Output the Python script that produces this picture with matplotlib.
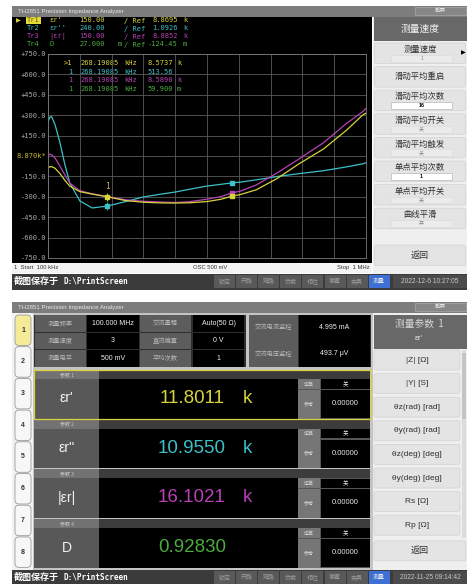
import numpy as np
import matplotlib
matplotlib.use("Agg")
import matplotlib.pyplot as plt
from matplotlib.patches import Rectangle, FancyBboxPatch

CJK = ["Noto Sans CJK SC", "DejaVu Sans"]
MONO = ["DejaVu Sans Mono", "Noto Sans CJK SC"]
SANS = ["Liberation Sans", "Noto Sans CJK SC", "DejaVu Sans"]
NARROW = ["Liberation Sans Narrow", "Liberation Sans", "DejaVu Sans"]

YEL = "#d8d43c"
CYA = "#3cc0c8"
MAG = "#b840b6"
GRN = "#4caa40"

# ---- sweep screen data (display units, -750..750 grid) ----
freq_khz = [100, 105, 110, 120, 134, 148, 162, 190, 225, 268, 320, 370, 420, 460,
            500, 550, 590, 620, 645, 690, 750, 810, 880, 945, 990, 1000]
tr1_er1 = [-85, -80, -78, -90, -130, -180, -222, -262, -280, -300, -328, -340, -345, -346,
           -344, -335, -318, -295, -283, -248, -163, -58, 52, 190, 300, 315]
tr2_er2 = [250, 285, 290, 230, 96, -66, -200, -330, -382, -368, -335, -301, -280, -265,
           -245, -221, -208, -198, -192, -175, -150, -130, -108, -80, -58, -50]
tr3_abs = [5, 12, 10, -15, -75, -140, -200, -255, -278, -298, -322, -333, -338, -342,
           -336, -318, -298, -272, -258, -212, -122, -22, 98, 240, 325, 350]
marker_idx = [9, 17]

ytick_vals = [750, 600, 450, 300, 150, 0, -150, -300, -450, -600, -750]
ytick_labels = ["+750.0", "+600.0", "+450.0", "+300.0", "+150.0", "8.870k*",
                "-150.0", "-300.0", "-450.0", "-600.0", "-750.0"]

trace_names = ["Tr1", "Tr2", "Tr3", "Tr4"]
trace_params = ["εr'", "εr''", "|εr|", "D"]
trace_scale = ["150.00", "240.00", "150.00", "27.000"]
trace_scale_unit = ["", "", "", "m"]
trace_ref = ["8.8695", "1.0926", "8.8852", "-124.45"]
trace_ref_unit = ["k", "k", "k", "m"]
trace_colors = [YEL, CYA, MAG, GRN]

marker_names = [">1", "1", "1", "1"]
marker_freq = ["268.19085", "268.19085", "268.19085", "268.19085"]
marker_vals = ["8.5737", "513.56", "8.5890", "59.900"]
marker_units = ["k", "", "k", "m"]

speed_menu = ["测量速度", "滑动平均重启", "滑动平均次数", "滑动平均开关",
              "滑动平均触发", "单点平均次数", "单点平均开关", "曲线平滑"]
speed_sub = ["1", "", "16", "关", "关", "1", "关", "开"]
speed_sub_edit = [False, False, True, False, False, True, False, False]

status_keys = ["锁定", "开路", "短路", "负载", "相位", "偏置", "夹具", "测量"]

# ---- meter screen data ----
info_labels = [["测量频率", "交流量程"], ["测量速度", "直流偏置"], ["测量电平", "平均次数"]]
info_values = [["100.000 MHz", "Auto(50 Ω)"], ["3", "0 V"], ["500 mV", "1"]]
monitor_labels = ["交流电流监控", "交流电压监控"]
monitor_values = ["4.995 mA", "493.7 μV"]
param_names = ["εr'", "εr''", "|εr|", "D"]
param_values = ["11.8011", "10.9550", "16.1021", "0.92830"]
param_units = ["k", "k", "k", ""]
param_calc = ["关", "关", "关", "关"]
param_ref = ["0.00000", "0.00000", "0.00000", "0.00000"]
param_colors = [YEL, CYA, MAG, GRN]
param_menu = ["|Z| [Ω]", "|Y| [S]", "θz(rad) [rad]", "θy(rad) [rad]",
              "θz(deg) [deg]", "θy(deg) [deg]", "Rs [Ω]", "Rp [Ω]"]

fig = plt.figure(figsize=(4.7, 5.84), dpi=100)
ax = fig.add_axes([0, 0, 1, 1])
ax.set_xlim(0, 470)
ax.set_ylim(584, 0)
ax.axis("off")


def box(x, y, w, h, fc, ec="none", lw=0.5, r=0, z=1):
    if r:
        p = FancyBboxPatch((x, y), w, h, boxstyle="round,pad=0,rounding_size=%g" % r,
                           fc=fc, ec=ec, lw=lw, zorder=z)
    else:
        p = Rectangle((x, y), w, h, fc=fc, ec=ec, lw=lw, zorder=z)
    ax.add_patch(p)


def txt(x, y, s, size=5, color="white", ha="center", fam=CJK, weight="normal", z=5):
    ax.text(x, y, s, fontsize=size, color=color, ha=ha, va="center",
            family=fam, fontweight=weight, zorder=z)


def status_bar(y, date):
    box(12, y, 455, 16, "#3b3b3b")
    txt(14, y + 8, "截图保存于", 6.5, "white", "left", CJK, "bold")
    txt(63, y + 8, "D:\\PrintScreen", 5.6, "white", "left", MONO, "bold")
    for i, k in enumerate(status_keys):
        bx = 214 + 22.1 * i
        fc = "#3d6fd4" if k == "测量" else "#595959"
        tc = "#ececec" if k == "测量" else "#9c9c9c"
        box(bx, y + 1.5, 21, 13, fc)
        txt(bx + 10.5, y + 8, k, 4.3, tc)
    box(393, y + 1.5, 74, 13, "#4b4b4b")
    txt(430, y + 8, date, 4.8, "#c8c8c8", fam=SANS)


def title_bar(y):
    box(12, y, 455, 11, "#7d7d7d")
    txt(18, y + 5.5, "TH2851 Precision Impedance Analyzer", 4.4, "#e8e8e8", "left", SANS)
    box(415, y + 1.2, 51, 8, "#878787", "#a8a8a8")
    txt(440.5, y + 5.2, "截屏", 4, "#e6e6e6")


# ================= top screen =================
title_bar(5.5)
box(12, 16.5, 360, 246, "black")

trace_y = [20.5, 28.5, 36.5, 44.5]
for i in range(4):
    c = trace_colors[i]
    y = trace_y[i]
    if i == 0:
        box(26, y - 3.6, 14.5, 7.2, "#e4dc3a")
        txt(33.2, y, trace_names[i], 5, "#6a5800", fam=MONO)
        txt(18, y, "▶", 4.5, YEL, fam=["DejaVu Sans"])
    else:
        txt(33.2, y, trace_names[i], 5, c, fam=MONO)
    txt(49, y, trace_params[i], 5, c, "left", MONO)
    txt(79, y, trace_scale[i], 5, c, "left", MONO)
    txt(118, y, trace_scale_unit[i], 5, c, "left", MONO)
    txt(124, y, "/ Ref", 5, c, "left", MONO)
    txt(178, y, trace_ref[i], 5, c, "right", MONO)
    txt(183, y, trace_ref_unit[i], 5, c, "left", MONO)

mk_y = [63, 71.7, 80.3, 89]
for i in range(4):
    c = trace_colors[i]
    y = mk_y[i]
    txt(72, y, marker_names[i], 5, c, "right", MONO)
    txt(80, y, marker_freq[i], 5, c, "left", MONO)
    txt(124, y, "kHz", 5, c, "left", MONO)
    txt(147, y, marker_vals[i], 5, c, "left", MONO)
    txt(177, y, marker_units[i], 5, c, "left", MONO)

box(12, 262.5, 360, 10.5, "#f3f3f3")
txt(14, 267.8, "1  Start  100 kHz", 4.2, "#333333", "left", SANS)
txt(193, 267.8, "OSC 500 mV", 4.2, "#333333", "left", SANS)
txt(370, 267.8, "Stop  1 MHz", 4.2, "#333333", "right", SANS)

# right soft-key panel
box(372.5, 16.5, 94.5, 257, "#efefef")
box(374, 17, 92.5, 24, "#686868")
txt(420, 29, "测量速度", 7, "#f0f0f0")
for i, name in enumerate(speed_menu):
    top = 43 + 23.6 * i
    box(374.5, top, 91, 20.5, "#e4e4e4", "#d2d2d2", 0.5, r=2)
    sub = speed_sub[i]
    if sub:
        txt(420, top + 6.5, name, 6, "#303030")
        if speed_sub_edit[i]:
            box(391, top + 12, 61, 6.8, "white", "#b8b8b8", 0.5, z=2)
            txt(421.5, top + 15.4, sub, 3.8, "black", fam=SANS, weight="bold")
        else:
            box(391, top + 12, 61, 6.8, "#ebebeb", "#dadada", 0.4, z=2)
            txt(421.5, top + 15.4, sub, 3.5, "#808080")
    else:
        txt(420, top + 10.3, name, 6, "#303030")
txt(463, 53, "▶", 4.5, "black", fam=["DejaVu Sans"])
box(374.5, 245, 91, 20.5, "#e4e4e4", "#d2d2d2", 0.5, r=2)
txt(420, 255.3, "返回", 6.5, "#303030")

status_bar(273.5, "2022-12-6 10:27:05")

# ================= bottom screen =================
title_bar(301.5)
box(12, 312.5, 21, 257.5, "#f2f2f2")
for i in range(8):
    top = 315 + 31.7 * i
    fc = "#f4ea98" if i == 0 else "#f7f7f7"
    box(15, top, 16, 30.5, fc, "#9a9a9a", 0.6, r=4)
    txt(23, top + 15.2, str(i + 1), 5, "#333333", fam=SANS, weight="bold")

box(33, 312.5, 339.5, 257.5, "#c4c4c4")

# info table
box(34, 314.5, 212, 52.5, "#2e2e2e")
col_x = [34, 86.5, 139, 192]
for r in range(3):
    ry = 314.5 + 17.5 * r
    for k in range(2):
        lx = col_x[2 * k]
        vx = col_x[2 * k + 1]
        box(lx + 0.5, ry + 0.5, 51.5, 16.5, "#5c5c5c")
        txt(lx + 26, ry + 8.8, info_labels[r][k], 4.5, "#b8b8b8")
        box(vx + 0.5, ry + 0.5, 51.5, 16.5, "black")
        txt(vx + 26.5, ry + 8.8, info_values[r][k], 5, "#f0f0f0", fam=SANS)

# monitor box
box(248.5, 314.5, 122, 52.5, "#2e2e2e")
for r in range(2):
    ry = 314.5 + 26.25 * r
    box(249, ry + 0.5, 49, 25.5, "#5c5c5c")
    txt(273.5, ry + 13.2, monitor_labels[r], 4.5, "#b8b8b8")
    box(298.5, ry + 0.5, 71.5, 25.5, "black")
    txt(334, ry + 13.2, monitor_values[r], 5, "#f0f0f0", fam=SANS)

# parameter blocks
for i in range(4):
    top = 370 + 49.7 * i
    c = param_colors[i]
    box(34, top, 336, 48.5, "#565656")
    box(34, top, 65, 9, "#727272")
    box(99, top, 271, 9, "#3c3c3c")
    txt(66.5, top + 4.6, "参数 %d" % (i + 1), 3.6, "#c8c8c8")
    box(34, top + 9, 65, 39.5, "#585858")
    txt(66.5, top + 28.5, param_names[i], 10, "#f2f2f2", fam=SANS)
    box(99, top + 9, 199, 39.5, "black")
    txt(192, top + 28.5, param_values[i], 13.5, c, fam=NARROW)
    if param_units[i]:
        txt(247, top + 28.5, param_units[i], 13.5, c, fam=NARROW)
    box(298, top + 9, 22, 10, "#767676")
    txt(309, top + 14, "运算", 3.6, "#d0d0d0")
    box(320.5, top + 9.3, 49.5, 9.4, "black")
    txt(345, top + 14, param_calc[i], 4, "#e8e8e8")
    box(298, top + 19.5, 22, 29, "#767676")
    txt(309, top + 33.5, "参考", 3.6, "#d0d0d0")
    box(320.5, top + 19.8, 49.5, 28.5, "black")
    txt(345, top + 33.5, param_ref[i], 5.5, "#e8e8e8", fam=SANS)
    if i == 0:
        box(33.5, top - 0.5, 337, 49.5, "none", YEL, 0.9, z=3)

# right menu
box(372.5, 312.5, 94.5, 257.5, "#efefef")
box(374, 314.5, 92.5, 34, "#686868")
txt(419, 323.8, "测量参数  1", 7, "#d6d6d6")
txt(419, 339, "εr'", 6, "#e6e6e6", fam=SANS)
for i, name in enumerate(param_menu):
    top = 350 + 23.6 * i
    box(374, top, 86, 20, "#e4e4e4", "#d2d2d2", 0.5, r=2)
    txt(417, top + 10, name, 6, "#303030", fam=SANS)
box(461.5, 350, 4.5, 188, "#dcdcdc")
box(461.8, 353, 4, 66, "#c4c4c4")
box(374, 540.8, 92, 20, "#e4e4e4", "#d2d2d2", 0.5, r=2)
txt(420, 550.8, "返回", 6.5, "#303030")

status_bar(569.5, "2022-11-25 09:14:42")

# ================= sweep chart =================
ch = fig.add_axes([48 / 470, 1 - 258 / 584, 318 / 470, 204 / 584])
ch.set_facecolor("none")
ch.plot(freq_khz, tr2_er2, color=CYA, lw=0.9)
ch.plot(freq_khz, tr3_abs, color=MAG, lw=0.9)
ch.plot(freq_khz, tr1_er1, color=YEL, lw=0.9)
for j in marker_idx:
    for series, c in [(tr2_er2, CYA), (tr3_abs, MAG), (tr1_er1, YEL)]:
        if j == marker_idx[0] and c == MAG:
            continue
        ch.plot(freq_khz[j], series[j], "s", ms=2.2, color=c)
        if j == marker_idx[0]:
            ch.plot(freq_khz[j], series[j], "|", ms=6, mew=0.6, color=c)
ch.text(freq_khz[marker_idx[0]], tr1_er1[marker_idx[0]] + 75, "1", fontsize=5.5,
        color="#d8b468", ha="center", va="center", family=MONO)
ch.set_xlim(100, 1000)
ch.set_ylim(-750, 750)
ch.set_xticks(np.linspace(100, 1000, 11))
ch.set_xticklabels([])
ch.set_yticks(ytick_vals)
ch.set_yticklabels(ytick_labels, family=MONO, fontsize=5, color="#a8a8a8")
for lab in ch.get_yticklabels():
    if lab.get_text().endswith("*"):
        lab.set_color("#c8b830")
ch.tick_params(length=0, pad=1.2)
ch.grid(color="#5a5a5a", lw=0.6)
for s in ch.spines.values():
    s.set_color("#7a7a7a")
    s.set_linewidth(0.6)

fig.savefig("out.png", dpi=100, facecolor="white")
